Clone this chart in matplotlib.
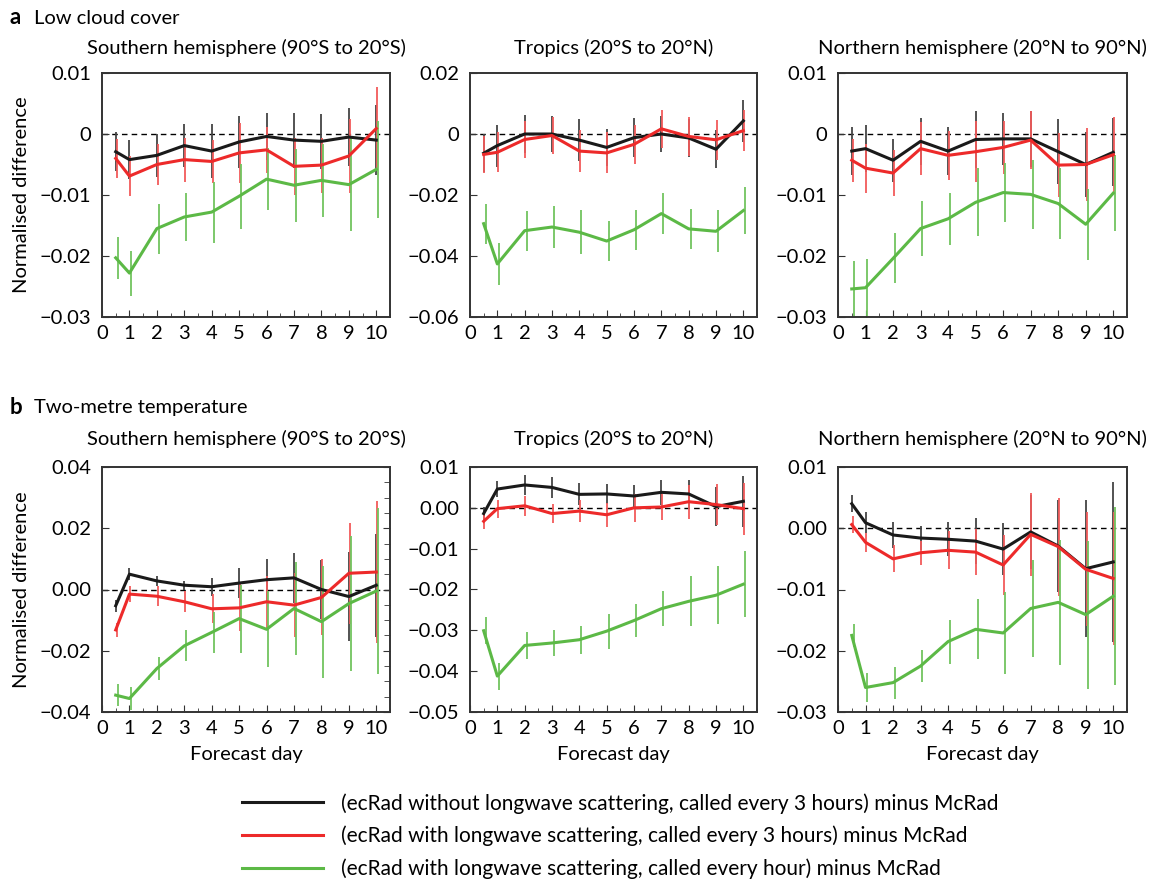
import numpy as np
import matplotlib
matplotlib.use('Agg')
import matplotlib.pyplot as plt
from matplotlib.ticker import MultipleLocator, FuncFormatter
from matplotlib.lines import Line2D

plt.rcParams['font.family'] = ['Lato', 'DejaVu Sans']
plt.rcParams['axes.unicode_minus'] = True

days = [0.5, 1, 2, 3, 4, 5, 6, 7, 8, 9, 10]
day_ticks = [0, 1, 2, 3, 4, 5, 6, 7, 8, 9, 10]

# a) low cloud cover, southern hemisphere
lcc_sh_black = [-0.0029, -0.0042, -0.0035, -0.0019, -0.0028, -0.0013, -0.0004, -0.0010, -0.0012, -0.0005, -0.0010]
lcc_sh_black_err = [0.0032, 0.0032, 0.0035, 0.0035, 0.0044, 0.0043, 0.0038, 0.0045, 0.0045, 0.0048, 0.0058]
lcc_sh_red = [-0.0040, -0.0069, -0.0050, -0.0042, -0.0045, -0.0031, -0.0026, -0.0053, -0.0051, -0.0036, 0.0009]
lcc_sh_red_err = [0.0032, 0.0033, 0.0033, 0.0036, 0.0035, 0.0049, 0.0038, 0.0047, 0.0045, 0.0060, 0.0068]
lcc_sh_green = [-0.0203, -0.0228, -0.0155, -0.0136, -0.0128, -0.0102, -0.0074, -0.0084, -0.0076, -0.0083, -0.0058]
lcc_sh_green_err = [0.0034, 0.0037, 0.0041, 0.0040, 0.0050, 0.0053, 0.0051, 0.0060, 0.0060, 0.0076, 0.0079]

# a) low cloud cover, tropics
lcc_tr_black = [-0.0063, -0.0038, 0.0000, 0.0000, -0.0020, -0.0044, -0.0012, 0.0000, -0.0013, -0.0050, 0.0043]
lcc_tr_black_err = [0.0062, 0.0069, 0.0062, 0.0060, 0.0068, 0.0062, 0.0063, 0.0058, 0.0062, 0.0063, 0.0068]
lcc_tr_red = [-0.0067, -0.0060, -0.0018, -0.0005, -0.0056, -0.0062, -0.0034, 0.0017, -0.0008, -0.0019, 0.0011]
lcc_tr_red_err = [0.0062, 0.0066, 0.0060, 0.0060, 0.0068, 0.0067, 0.0064, 0.0062, 0.0065, 0.0066, 0.0068]
lcc_tr_green = [-0.0294, -0.0426, -0.0317, -0.0305, -0.0322, -0.0351, -0.0314, -0.0261, -0.0311, -0.0319, -0.0251]
lcc_tr_green_err = [0.0066, 0.0070, 0.0065, 0.0069, 0.0072, 0.0065, 0.0066, 0.0066, 0.0065, 0.0069, 0.0077]

# a) low cloud cover, northern hemisphere
lcc_nh_black = [-0.0028, -0.0024, -0.0043, -0.0012, -0.0028, -0.0009, -0.0008, -0.0008, -0.0029, -0.0050, -0.0030]
lcc_nh_black_err = [0.0040, 0.0039, 0.0035, 0.0039, 0.0040, 0.0047, 0.0043, 0.0046, 0.0053, 0.0054, 0.0056]
lcc_nh_red = [-0.0043, -0.0056, -0.0064, -0.0024, -0.0035, -0.0029, -0.0022, -0.0010, -0.0051, -0.0050, -0.0034]
lcc_nh_red_err = [0.0035, 0.0040, 0.0037, 0.0043, 0.0040, 0.0050, 0.0043, 0.0047, 0.0053, 0.0060, 0.0062]
lcc_nh_green = [-0.0254, -0.0252, -0.0204, -0.0155, -0.0139, -0.0112, -0.0096, -0.0099, -0.0114, -0.0148, -0.0097]
lcc_nh_green_err = [0.0045, 0.0047, 0.0041, 0.0045, 0.0043, 0.0056, 0.0048, 0.0056, 0.0058, 0.0058, 0.0062]

# b) two-metre temperature, southern hemisphere
t2m_sh_black = [-0.0053, 0.0050, 0.0028, 0.0014, 0.0009, 0.0021, 0.0032, 0.0038, 0.0000, -0.0023, 0.0014]
t2m_sh_black_err = [0.0020, 0.0020, 0.0015, 0.0014, 0.0030, 0.0050, 0.0069, 0.0082, 0.0097, 0.0145, 0.0168]
t2m_sh_red = [-0.0132, -0.0015, -0.0022, -0.0040, -0.0063, -0.0060, -0.0040, -0.0051, -0.0026, 0.0053, 0.0057]
t2m_sh_red_err = [0.0022, 0.0027, 0.0032, 0.0035, 0.0047, 0.0077, 0.0085, 0.0104, 0.0124, 0.0165, 0.0232]
t2m_sh_green = [-0.0345, -0.0356, -0.0258, -0.0184, -0.0140, -0.0095, -0.0130, -0.0062, -0.0105, -0.0046, -0.0005]
t2m_sh_green_err = [0.0035, 0.0037, 0.0037, 0.0051, 0.0066, 0.0111, 0.0124, 0.0153, 0.0183, 0.0220, 0.0272]

# b) two-metre temperature, tropics
t2m_tr_black = [-0.0014, 0.0046, 0.0056, 0.0050, 0.0033, 0.0034, 0.0029, 0.0038, 0.0034, 0.0003, 0.0016]
t2m_tr_black_err = [0.0015, 0.0019, 0.0025, 0.0025, 0.0027, 0.0025, 0.0027, 0.0031, 0.0035, 0.0047, 0.0063]
t2m_tr_red = [-0.0033, -0.0002, 0.0005, -0.0014, -0.0008, -0.0017, 0.0000, 0.0002, 0.0015, 0.0008, -0.0002]
t2m_tr_red_err = [0.0018, 0.0022, 0.0024, 0.0024, 0.0027, 0.0030, 0.0035, 0.0032, 0.0042, 0.0050, 0.0064]
t2m_tr_green = [-0.0301, -0.0412, -0.0337, -0.0331, -0.0323, -0.0302, -0.0276, -0.0247, -0.0229, -0.0214, -0.0187]
t2m_tr_green_err = [0.0033, 0.0033, 0.0033, 0.0033, 0.0034, 0.0043, 0.0041, 0.0043, 0.0061, 0.0071, 0.0081]

# b) two-metre temperature, northern hemisphere
t2m_nh_black = [0.0040, 0.0009, -0.0011, -0.0016, -0.0018, -0.0021, -0.0034, -0.0006, -0.0029, -0.0066, -0.0055]
t2m_nh_black_err = [0.0014, 0.0017, 0.0022, 0.0020, 0.0028, 0.0037, 0.0043, 0.0061, 0.0075, 0.0112, 0.0130]
t2m_nh_red = [0.0006, -0.0023, -0.0050, -0.0040, -0.0036, -0.0039, -0.0060, -0.0010, -0.0030, -0.0067, -0.0082]
t2m_nh_red_err = [0.0014, 0.0016, 0.0022, 0.0020, 0.0031, 0.0037, 0.0049, 0.0068, 0.0080, 0.0093, 0.0109]
t2m_nh_green = [-0.0175, -0.0260, -0.0252, -0.0225, -0.0185, -0.0165, -0.0171, -0.0131, -0.0121, -0.0141, -0.0111]
t2m_nh_green_err = [0.0019, 0.0024, 0.0026, 0.0026, 0.0036, 0.0049, 0.0067, 0.0079, 0.0102, 0.0121, 0.0145]

titles = ['Southern hemisphere (90°S to 20°S)', 'Tropics (20°S to 20°N)', 'Northern hemisphere (20°N to 90°N)']
legend_labels = ['(ecRad without longwave scattering, called every 3 hours) minus McRad',
                 '(ecRad with longwave scattering, called every 3 hours) minus McRad',
                 '(ecRad with longwave scattering, called every hour) minus McRad']

col_black = '#1a1a1a'
col_red = '#ed2a2a'
col_green = '#5cb946'
bar_cols = ['#444444', '#f25a5a', '#72c45f']
offsets = [0.0, 0.03, 0.07]
fs = 14.5

W, H = 1153, 881
fig = plt.figure(figsize=(W / 100, H / 100), dpi=100)

def px_ax(l, t, r, b):
    return fig.add_axes([l / W, 1 - b / H, (r - l) / W, (b - t) / H])

def fmt_g(v, pos):
    if abs(v) < 1e-12:
        return '0'
    return ('%g' % v).replace('-', '\u2212')

def fmt_2(v, pos):
    if abs(v) < 1e-12:
        return '0.00'
    return ('%.2f' % v).replace('-', '\u2212')

panels = [
    (px_ax(102, 73, 390, 317), (lcc_sh_black, lcc_sh_black_err, lcc_sh_red, lcc_sh_red_err, lcc_sh_green, lcc_sh_green_err), (-0.03, 0.01), 0.01, fmt_g),
    (px_ax(470, 73, 757, 317), (lcc_tr_black, lcc_tr_black_err, lcc_tr_red, lcc_tr_red_err, lcc_tr_green, lcc_tr_green_err), (-0.06, 0.02), 0.02, fmt_g),
    (px_ax(838, 73, 1127, 317), (lcc_nh_black, lcc_nh_black_err, lcc_nh_red, lcc_nh_red_err, lcc_nh_green, lcc_nh_green_err), (-0.03, 0.01), 0.01, fmt_g),
    (px_ax(102, 467, 390, 712), (t2m_sh_black, t2m_sh_black_err, t2m_sh_red, t2m_sh_red_err, t2m_sh_green, t2m_sh_green_err), (-0.04, 0.04), 0.02, fmt_2),
    (px_ax(470, 467, 757, 712), (t2m_tr_black, t2m_tr_black_err, t2m_tr_red, t2m_tr_red_err, t2m_tr_green, t2m_tr_green_err), (-0.05, 0.01), 0.01, fmt_2),
    (px_ax(838, 467, 1127, 712), (t2m_nh_black, t2m_nh_black_err, t2m_nh_red, t2m_nh_red_err, t2m_nh_green, t2m_nh_green_err), (-0.03, 0.01), 0.01, fmt_2),
]

for i, (ax, d, ylim, step, fmt) in enumerate(panels):
    x = np.array(days)
    series = [(d[0], d[1], col_black), (d[2], d[3], col_red), (d[4], d[5], col_green)]
    for k, (m, e, c) in enumerate(series):
        m = np.array(m); e = np.array(e)
        ax.vlines(x + offsets[k], m - e, m + e, color=bar_cols[k], lw=1.3, zorder=2)
    for k, (m, e, c) in enumerate(series):
        ax.plot(x, m, color=c, lw=2.2, zorder=3)
    ax.axhline(0, color='k', lw=1, ls=(0, (4, 3)), zorder=1)
    ax.set_xlim(0, 10.5)
    ax.set_ylim(*ylim)
    ax.set_xticks(day_ticks)
    ax.xaxis.set_minor_locator(MultipleLocator(0.5))
    ax.yaxis.set_major_locator(MultipleLocator(step))
    ax.yaxis.set_major_formatter(FuncFormatter(fmt))
    ax.tick_params(which='both', direction='in', labelsize=fs, color='#333333')
    ax.tick_params(axis='x', which='major', length=5, pad=6)
    ax.tick_params(axis='x', which='minor', length=3)
    ax.tick_params(axis='y', which='major', length=5, pad=8)
    if i == 3:
        ax.yaxis.set_minor_locator(MultipleLocator(0.005))
        ax.tick_params(axis='y', which='minor', right=True, left=False, length=4)
        ax.tick_params(axis='y', which='major', right=True)
    for s in ax.spines.values():
        s.set_color('#333333')
        s.set_linewidth(1.4)
    row = i // 3
    col = i % 3
    cx = (ax.get_position().x0 + ax.get_position().x1) / 2
    fig.text(cx, 1 - (48 if row == 0 else 439) / H, titles[col], ha='center', va='center', fontsize=fs)
    if col == 0:
        ax.set_ylabel('Normalised difference', fontsize=fs)
        ax.yaxis.set_label_coords(-72 / 288, 0.5)
    if row == 1:
        ax.set_xlabel('Forecast day', fontsize=fs, labelpad=6)

fig.text(10 / W, 1 - 18 / H, 'a', fontsize=16, fontweight='bold', va='center')
fig.text(34 / W, 1 - 18 / H, 'Low cloud cover', fontsize=fs, va='center')
fig.text(10 / W, 1 - 408 / H, 'b', fontsize=16, fontweight='bold', va='center')
fig.text(34 / W, 1 - 408 / H, 'Two-metre temperature', fontsize=fs, va='center')

handles = [Line2D([], [], color=col_black, lw=2.2),
           Line2D([], [], color=col_red, lw=2.2),
           Line2D([], [], color=col_green, lw=2.2)]
fig.legend(handles, legend_labels, loc='upper left', bbox_to_anchor=(242 / W, 1 - 793 / H),
           frameon=False, fontsize=15, handlelength=3.9, handletextpad=0.85, labelspacing=0.58,
           borderpad=0, borderaxespad=0)

fig.savefig('out.png', dpi=100)
